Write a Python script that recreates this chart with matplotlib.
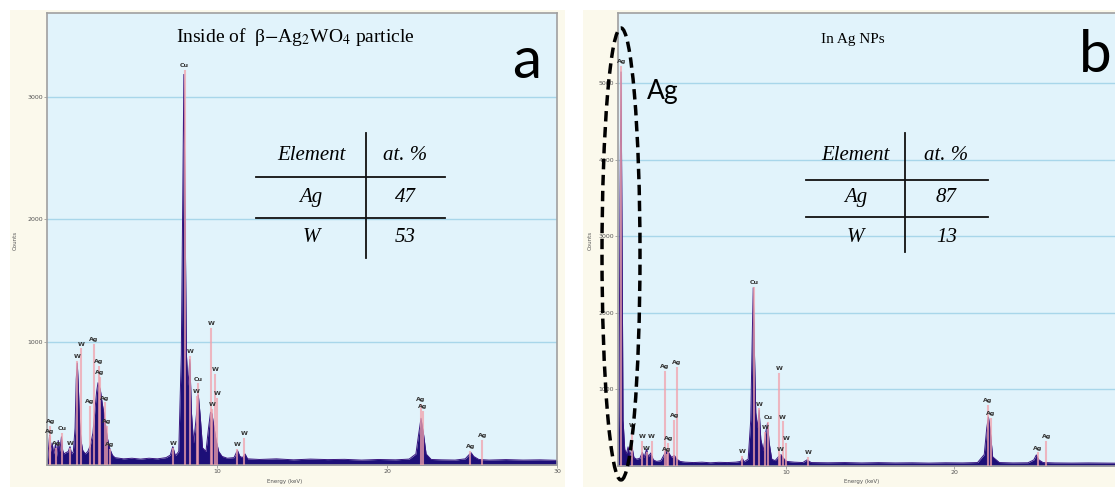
import matplotlib
matplotlib.use("Agg")
import matplotlib.pyplot as plt
from matplotlib.patches import Rectangle, Ellipse
from matplotlib.lines import Line2D

W, H = 1115, 487

# ---- panel a : inside of beta-Ag2WO4 particle ----
energy_a = [0.0, 0.08, 0.15, 0.22, 0.3, 0.4, 0.5, 0.58, 0.66, 0.75, 0.85, 0.92, 1.0, 1.1,
            1.25, 1.35, 1.45, 1.55, 1.65, 1.72, 1.78, 1.84, 1.92, 2.0, 2.1, 2.25, 2.4, 2.55,
            2.7, 2.82, 2.92, 3.0, 3.08, 3.15, 3.25, 3.35, 3.45, 3.55, 3.7, 3.85, 4.0, 4.5,
            5.0, 5.5, 6.0, 6.5, 7.0, 7.25, 7.4, 7.55, 7.75, 7.9, 8.0, 8.05, 8.12, 8.2, 8.3,
            8.4, 8.5, 8.62, 8.75, 8.9, 9.0, 9.15, 9.35, 9.5, 9.62, 9.7, 9.8, 9.95, 10.1, 10.3,
            10.6, 11.0, 11.2, 11.35, 11.5, 11.65, 11.8, 12.5, 13.5, 14.5, 15.5, 16.5, 17.5,
            18.5, 19.5, 20.5, 21.3, 21.7, 21.85, 22.0, 22.15, 22.3, 22.6, 23.2, 24.0, 24.6,
            24.8, 24.95, 25.1, 25.4, 26.0, 27.0, 28.0, 29.0, 30.0]
counts_a = [0, 120, 240, 110, 180, 90, 170, 70, 200, 110, 230, 120, 90, 100,
            110, 150, 90, 110, 300, 700, 830, 650, 350, 200, 120, 90, 110, 160,
            260, 450, 600, 670, 640, 600, 500, 420, 320, 220, 130, 80, 60, 50,
            55, 48, 55, 50, 60, 80, 150, 75, 110, 900, 2400, 3180, 2100, 900, 650,
            860, 420, 180, 350, 570, 420, 140, 110, 300, 430, 420, 330, 200, 110, 70,
            55, 60, 120, 70, 60, 90, 50, 45, 50, 42, 48, 44, 46,
            40, 45, 42, 48, 90, 240, 380, 250, 90, 45, 42, 40, 50,
            80, 100, 70, 45, 40, 44, 40, 42, 38]
peak_elem_a = ["Ag", "Ag", "Cu", "Ag", "W", "W", "W", "Ag", "Ag", "Ag", "Ag", "Ag", "Ag", "Ag",
               "W", "Cu", "W", "Cu", "W", "W", "W", "W", "W", "W", "W", "Ag", "Ag", "Ag", "Ag"]
peak_kev_a = [0.15, 0.2, 0.9, 0.55, 1.35, 1.75, 2.0, 2.5, 2.75, 3.05, 3.1, 3.4, 3.5, 3.7,
              7.4, 8.1, 8.4, 8.9, 8.8, 9.65, 9.9, 10.0, 9.7, 11.2, 11.6, 22.0, 22.1, 24.9, 25.6]
peak_cnt_a = [270, 355, 300, 175, 175, 885, 985, 520, 1025, 845, 750, 545, 355, 170,
              175, 3250, 925, 700, 600, 1155, 780, 585, 490, 170, 255, 535, 475, 150, 240]
table_a = ["47", "53"]

# ---- panel b : in Ag NPs ----
energy_b = [0.0, 0.06, 0.12, 0.18, 0.24, 0.3, 0.4, 0.5, 0.6, 0.7, 0.85, 0.95, 1.1, 1.3,
            1.45, 1.55, 1.7, 1.8, 1.95, 2.1, 2.3, 2.55, 2.75, 2.85, 2.95, 3.05, 3.2, 3.35,
            3.5, 3.7, 4.0, 4.5, 5.0, 5.5, 6.0, 6.5, 7.0, 7.3, 7.4, 7.5, 7.75, 7.9, 8.0, 8.05,
            8.1, 8.2, 8.3, 8.4, 8.5, 8.65, 8.8, 8.9, 9.0, 9.15, 9.35, 9.55, 9.7, 9.85, 10.05,
            10.5, 11.0, 11.25, 11.5, 12.5, 13.5, 14.5, 15.5, 16.5, 17.5, 18.5, 19.5, 20.5,
            21.4, 21.8, 21.95, 22.05, 22.15, 22.3, 22.7, 23.5, 24.4, 24.75, 24.9, 25.05,
            25.3, 26.0, 27.0, 28.0, 29.0, 30.0]
counts_b = [0, 900, 3500, 5150, 3000, 600, 220, 160, 250, 140, 230, 110, 90, 100,
            180, 110, 220, 120, 170, 80, 60, 70, 150, 200, 210, 160, 110, 140,
            90, 60, 50, 45, 50, 42, 48, 45, 50, 60, 100, 55, 90, 600, 1800, 2330,
            1700, 700, 500, 730, 350, 200, 450, 560, 300, 90, 70, 120, 150, 100, 60,
            50, 45, 80, 45, 42, 45, 40, 44, 40, 42, 38, 42, 40,
            45, 150, 500, 640, 480, 120, 45, 40, 42, 80, 145, 80,
            45, 40, 38, 40, 38, 36]
peak_elem_b = ["Ag", "W", "W", "W", "W", "Ag", "Ag", "Ag", "Ag", "Ag", "W", "Cu", "W", "W",
               "Cu", "W", "W", "W", "W", "W", "Ag", "Ag", "Ag", "Ag"]
peak_kev_b = [0.2, 0.85, 1.43, 1.7, 2.0, 2.8, 3.5, 3.35, 3.0, 2.9, 7.4, 8.1, 8.4, 8.75,
              8.95, 9.6, 9.8, 10.0, 9.65, 11.3, 22.0, 22.2, 25.0, 25.5]
peak_cnt_b = [5280, 535, 380, 235, 380, 1295, 1350, 665, 365, 210, 185, 2400, 810, 500,
              630, 1270, 640, 365, 210, 170, 860, 690, 235, 380]
table_b = ["87", "13"]

table_elem = ["Ag", "W"]

NAVY = "#1d0f78"
PINK = "#f2a2ac"
FACE = "#e1f3fb"
CREAM = "#fbf9ec"
GRID = "#a8d6ea"

plt.rcParams["mathtext.fontset"] = "stix"

fig = plt.figure(figsize=(W / 100, H / 100), dpi=100)
fig.patch.set_facecolor("white")


def fx(x):
    return x / W


def fy(y):
    return 1 - y / H


# cream frames behind the two screenshots
fig.patches.append(Rectangle((fx(10), 0), fx(555), fy(10), transform=fig.transFigure,
                             facecolor=CREAM, edgecolor="none", zorder=-5))
fig.patches.append(Rectangle((fx(583), 0), fx(540), fy(10), transform=fig.transFigure,
                             facecolor=CREAM, edgecolor="none", zorder=-5))


def spectrum(rect, xmax, ymax, yticks, xticks, energy, counts, elems, kevs, cnts):
    ax = fig.add_axes(rect)
    ax.set_facecolor(FACE)
    ax.fill_between(energy, counts, color=NAVY, lw=0, zorder=2)
    ax.plot(energy, counts, color="#3a1580", lw=0.7, zorder=2)
    off = ymax * 0.012
    for e, k, c in zip(elems, kevs, cnts):
        ax.plot([k, k], [0, c - off], color=PINK, lw=1.5, alpha=0.75, zorder=3)
        ax.text(k, c, e, fontsize=4.5, color="#333333", ha="center", va="center",
                fontweight="bold", zorder=4)
    ax.set_xlim(0, xmax)
    ax.set_ylim(0, ymax)
    ax.set_yticks(yticks)
    ax.set_yticklabels([str(t) for t in yticks])
    ax.set_xticks(xticks)
    ax.set_xticklabels([str(t) for t in xticks])
    ax.tick_params(labelsize=4.5, labelcolor="#555555", length=2, width=0.5, color="#888888",
                   pad=1)
    ax.grid(axis="y", color=GRID, lw=1.0, zorder=1)
    ax.set_axisbelow(True)
    for s in ax.spines.values():
        s.set_color("#a0a0a0")
        s.set_linewidth(1.2)
    return ax


ax_a = spectrum([fx(47), fy(465), fx(510), (465 - 13) / H], 30, 3680, [1000, 2000, 3000],
                [10, 20, 30], energy_a, counts_a, peak_elem_a, peak_kev_a, peak_cnt_a)
# panel b is cut by the right edge of the picture, so its 30 keV tick is not shown
ax_b = spectrum([fx(618), fy(466), fx(504), (466 - 13) / H], 30, 5920,
                [1000, 2000, 3000, 4000, 5000], [10, 20],
                energy_b, counts_b, peak_elem_b, peak_kev_b, peak_cnt_b)

# axis titles (tiny, like the instrument software)
fig.text(fx(15), fy(240), "Counts", rotation=90, fontsize=4, color="#555555",
         ha="center", va="center")
fig.text(fx(590), fy(240), "Counts", rotation=90, fontsize=4, color="#555555",
         ha="center", va="center")
fig.text(fx(285), fy(482), "Energy (keV)", fontsize=4, color="#555555", ha="center", va="center")
fig.text(fx(862), fy(482), "Energy (keV)", fontsize=4, color="#555555", ha="center", va="center")

# panel titles
fig.text(fx(295), fy(37), r"Inside of  β$-$Ag$_2$WO$_4$ particle", family="Liberation Serif",
         fontsize=14, ha="center", va="center")
fig.text(fx(853), fy(40), "In Ag NPs", family="Liberation Serif", fontsize=11,
         ha="center", va="center")

# panel letters
fig.text(fx(527), fy(62), "a", family="Lato", fontsize=42, ha="center", va="center")
fig.text(fx(1095), fy(55), "b", family="Lato", fontsize=42, ha="center", va="center")


def table(x_left, x_mid, x_right, y_top, y_l1, y_l2, y_bot, y_rows, vals):
    c1 = (x_left + x_mid) / 2
    c2 = (x_mid + x_right) / 2
    kw = dict(family="Liberation Serif", style="italic", fontsize=15, ha="center", va="center")
    fig.text(fx(c1), fy(y_rows[0]), "Element", **kw)
    fig.text(fx(c2), fy(y_rows[0]), "at. %", **kw)
    for i in range(2):
        fig.text(fx(c1), fy(y_rows[i + 1]), table_elem[i], **kw)
        fig.text(fx(c2), fy(y_rows[i + 1]), vals[i], **kw)
    for y in (y_l1, y_l2):
        fig.lines.append(Line2D([fx(x_left), fx(x_right)], [fy(y), fy(y)], color="#111111",
                                lw=1.3, transform=fig.transFigure))
    fig.lines.append(Line2D([fx(x_mid), fx(x_mid)], [fy(y_top), fy(y_bot)], color="#111111",
                            lw=1.3, transform=fig.transFigure))


table(256, 366, 445, 133, 177, 218, 258, [155, 198, 238], table_a)
table(806, 905, 988, 133, 180, 217, 252, [155, 198, 238], table_b)

# highlight of the Ag peak in panel b
fig.patches.append(Ellipse((fx(621), fy(254)), fx(38), 452 / H, transform=fig.transFigure,
                           fill=False, edgecolor="black", lw=2.5, linestyle=(0, (3, 1.6)),
                           zorder=10))
fig.text(fx(663), fy(92), "Ag", family="Lato", fontsize=19, ha="center", va="center")

fig.savefig("out.png", dpi=100)
